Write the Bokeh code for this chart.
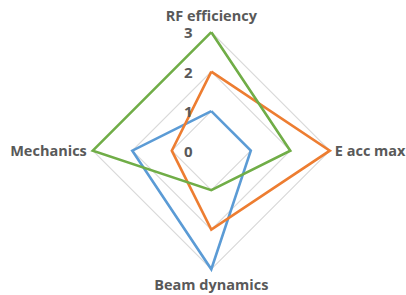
import math
from bokeh.plotting import figure
from bokeh.models import Range1d, ColumnDataSource
from bokeh.core.properties import value
from bokeh.embed import file_html
from bokeh.resources import INLINE

categories = ["RF efficiency", "E acc max", "Beam dynamics", "Mechanics"]
series_blue = [1, 1, 3, 2]
series_orange = [2, 3, 2, 1]
series_green = [3, 2, 1, 3]
levels = [0, 1, 2, 3]
tick_labels = ["0", "1", "2", "3"]

colors = ["#5B9BD5", "#ED7D31", "#70AD47"]
angles = [math.pi / 2, 0.0, -math.pi / 2, math.pi]

W, H = 406, 295
scale = 39.5
cx, cy = 210.8, 150.2

p = figure(width=W, height=H, output_backend="svg", toolbar_location=None,
           x_range=Range1d(-cx / scale, (W - cx) / scale),
           y_range=Range1d(-(H - cy) / scale, cy / scale),
           min_border=0, outline_line_color=None)
p.axis.visible = False
p.grid.visible = False
p.background_fill_color = "white"
p.border_fill_color = "white"


def polar(vals):
    xs = [v * math.cos(a) for v, a in zip(vals, angles)]
    ys = [v * math.sin(a) for v, a in zip(vals, angles)]
    return xs + xs[:1], ys + ys[:1]


for lv in levels[1:]:
    xs, ys = polar([lv] * len(categories))
    p.line(xs, ys, line_color="#D9D9D9", line_width=1.2)

for vals, c in zip([series_blue, series_orange, series_green], colors):
    xs, ys = polar(vals)
    p.line(xs, ys, line_color=c, line_width=2.6, line_join="miter")

font = value("Open Sans")
tick_src = ColumnDataSource(dict(x=[0] * len(levels), y=levels, t=tick_labels))
p.text(x="x", y="y", text="t", source=tick_src, x_offset=-23, y_offset=1,
       text_align="center", text_baseline="middle", text_font=font,
       text_font_style="bold", text_font_size="15px", text_color="#595959")

R = max(levels)
lab_x = [0, R, 0, -R]
lab_y = [R, 0, -R, 0]
lab_xo = [0, 5, 0, -6]
lab_yo = [-17, 0, 15, 0]
lab_align = ["center", "left", "center", "right"]
lab_src = ColumnDataSource(dict(x=lab_x, y=lab_y, t=categories, xo=lab_xo, yo=lab_yo,
                                al=lab_align))
p.text(x="x", y="y", text="t", source=lab_src, x_offset="xo", y_offset="yo",
       text_align="al", text_baseline="middle", text_font=font, text_font_style="bold",
       text_font_size="14.5px", text_color="#595959")

open("out.html", "w").write(file_html(p, INLINE))
